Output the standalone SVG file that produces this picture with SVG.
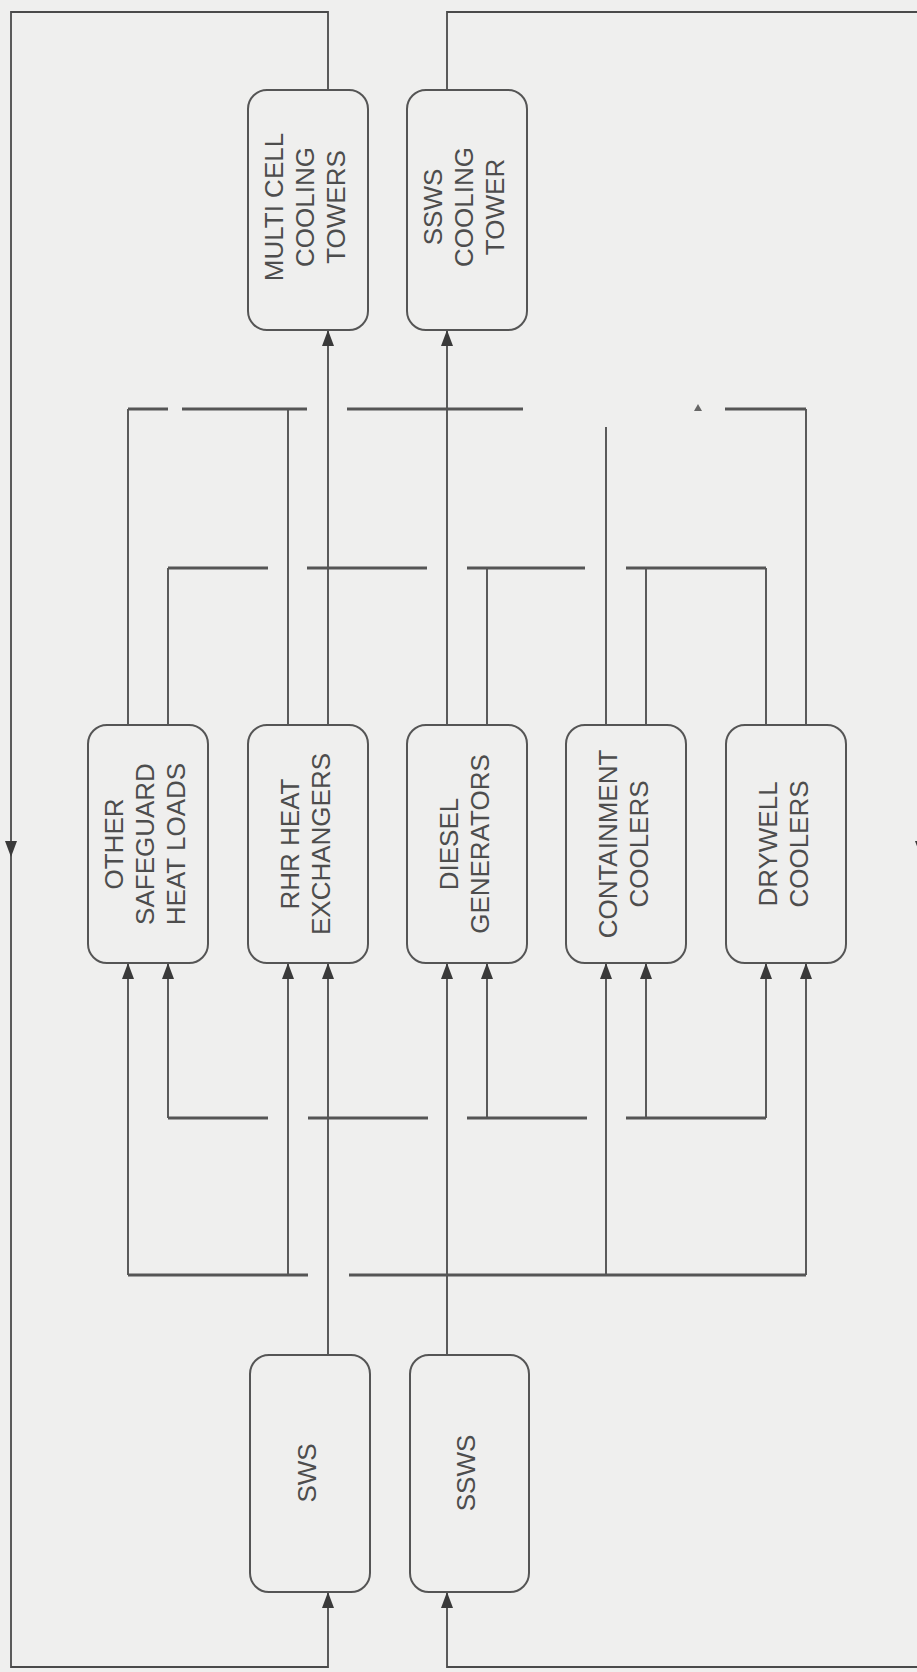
<svg xmlns="http://www.w3.org/2000/svg" width="917" height="1672" viewBox="0 0 917 1672">
<style>
.bg{fill:#efefee}
.box{fill:none;stroke:#555;stroke-width:2}
.lbl{font-family:"Liberation Sans",Arial,sans-serif;font-size:26px;fill:#4d4d4d}
.ln{fill:none;stroke:#4a4a4a;stroke-width:1.8}
.hdr{fill:none;stroke:#555;stroke-width:3}
</style>
<defs>
<marker id="ah" viewBox="0 0 16 12" refX="16" refY="6" markerWidth="16" markerHeight="12" markerUnits="userSpaceOnUse" orient="auto">
<path d="M0,0 L16,6 L0,12 z" fill="#3a3a3a"/>
</marker>
</defs>
<rect class="bg" x="0" y="0" width="917" height="1672"/>

<g id="connectors">
<!-- outer return loops -->
<path class="ln" d="M328,90 V12 H11 V857" marker-end="url(#ah)"/>
<path class="ln" d="M11,857 V1667 H328 V1592" marker-end="url(#ah)"/>
<path class="ln" d="M447,90 V12 H921 V857" marker-end="url(#ah)"/>
<path class="ln" d="M921,857 V1667 H447 V1592" marker-end="url(#ah)"/>
<!-- main risers -->
<path class="ln" d="M328,1355 V963" marker-end="url(#ah)"/>
<path class="ln" d="M328,725 V330" marker-end="url(#ah)"/>
<path class="ln" d="M447,1355 V963" marker-end="url(#ah)"/>
<path class="ln" d="M447,725 V330" marker-end="url(#ah)"/>
<!-- outlets -->
<path class="ln" d="M128,725 V409"/>
<path class="ln" d="M168,725 V568"/>
<path class="ln" d="M288,725 V409"/>
<path class="ln" d="M487,725 V568"/>
<path class="ln" d="M606,725 V427"/>
<path class="ln" d="M646,725 V568"/>
<path class="ln" d="M766,725 V568"/>
<path class="ln" d="M806,725 V409"/>
<!-- upper headers -->
<path class="hdr" d="M128,409 H168 M182,409 H307 M347,409 H523 M725,409 H806"/>
<path d="M694,411 L698,404 L702,411 z" fill="#666"/>
<path class="hdr" d="M168,568 H268 M307,568 H427 M467,568 H585 M626,568 H766"/>
<!-- inlets -->
<path class="ln" d="M128,1275 V963" marker-end="url(#ah)"/>
<path class="ln" d="M168,1118 V963" marker-end="url(#ah)"/>
<path class="ln" d="M288,1275 V963" marker-end="url(#ah)"/>
<path class="ln" d="M487,1118 V963" marker-end="url(#ah)"/>
<path class="ln" d="M606,1275 V963" marker-end="url(#ah)"/>
<path class="ln" d="M646,1118 V963" marker-end="url(#ah)"/>
<path class="ln" d="M766,1118 V963" marker-end="url(#ah)"/>
<path class="ln" d="M806,1275 V963" marker-end="url(#ah)"/>
<!-- lower headers -->
<path class="hdr" d="M168,1118 H268 M308,1118 H428 M467,1118 H587 M626,1118 H766"/>
<path class="hdr" d="M128,1275 H308 M349,1275 H806"/>
</g>

<g id="n_multi">
<rect class="box" x="248" y="90" width="120" height="240" rx="19"/>
<text class="lbl" transform="translate(305 207) rotate(-90)" text-anchor="middle"><tspan x="0" y="-21.7">MULTI CELL</tspan><tspan x="0" y="9.3">COOLING</tspan><tspan x="0" y="40.3">TOWERS</tspan></text>
</g>
<g id="n_sswsct">
<rect class="box" x="407" y="90" width="120" height="240" rx="19"/>
<text class="lbl" transform="translate(464 207) rotate(-90)" text-anchor="middle"><tspan x="0" y="-21.7">SSWS</tspan><tspan x="0" y="9.3">COOLING</tspan><tspan x="0" y="40.3">TOWER</tspan></text>
</g>
<g id="n_other">
<rect class="box" x="88" y="725" width="120" height="238" rx="19"/>
<text class="lbl" transform="translate(145 844) rotate(-90)" text-anchor="middle"><tspan x="0" y="-21.7">OTHER</tspan><tspan x="0" y="9.3">SAFEGUARD</tspan><tspan x="0" y="40.3">HEAT LOADS</tspan></text>
</g>
<g id="n_rhr">
<rect class="box" x="248" y="725" width="120" height="238" rx="19"/>
<text class="lbl" transform="translate(305 844) rotate(-90)" text-anchor="middle"><tspan x="0" y="-6.2">RHR HEAT</tspan><tspan x="0" y="24.8">EXCHANGERS</tspan></text>
</g>
<g id="n_dg">
<rect class="box" x="407" y="725" width="120" height="238" rx="19"/>
<text class="lbl" transform="translate(464 844) rotate(-90)" text-anchor="middle"><tspan x="0" y="-6.2">DIESEL</tspan><tspan x="0" y="24.8">GENERATORS</tspan></text>
</g>
<g id="n_cont">
<rect class="box" x="566" y="725" width="120" height="238" rx="19"/>
<text class="lbl" transform="translate(623 844) rotate(-90)" text-anchor="middle"><tspan x="0" y="-6.2">CONTAINMENT</tspan><tspan x="0" y="24.8">COOLERS</tspan></text>
</g>
<g id="n_dw">
<rect class="box" x="726" y="725" width="120" height="238" rx="19"/>
<text class="lbl" transform="translate(783 844) rotate(-90)" text-anchor="middle"><tspan x="0" y="-6.2">DRYWELL</tspan><tspan x="0" y="24.8">COOLERS</tspan></text>
</g>
<g id="n_sws">
<rect class="box" x="250" y="1355" width="120" height="237" rx="19"/>
<text class="lbl" transform="translate(307 1473) rotate(-90)" text-anchor="middle"><tspan x="0" y="9.3">SWS</tspan></text>
</g>
<g id="n_ssws">
<rect class="box" x="410" y="1355" width="119" height="237" rx="19"/>
<text class="lbl" transform="translate(466 1473) rotate(-90)" text-anchor="middle"><tspan x="0" y="9.3">SSWS</tspan></text>
</g>
</svg>
